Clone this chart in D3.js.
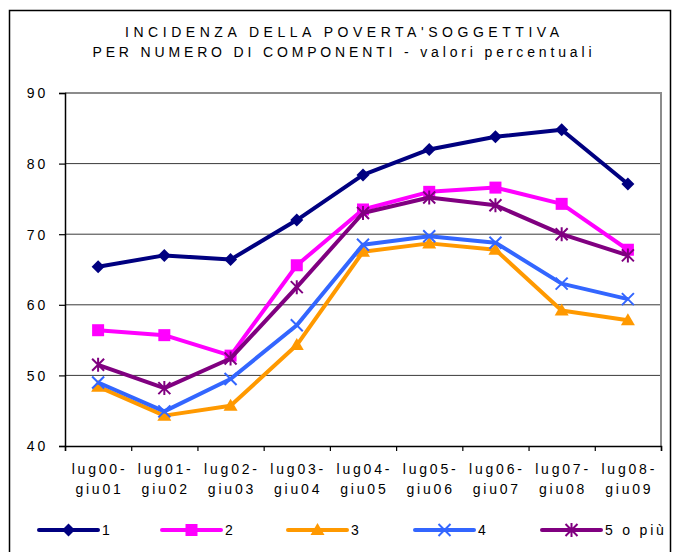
<!DOCTYPE html>
<html><head><meta charset="utf-8">
<script src="https://cdn.jsdelivr.net/npm/d3@7"></script>
<style>body{margin:0;background:#fff}svg{display:block}text{font-family:"Liberation Sans",Arial,sans-serif;fill:#000}</style>
</head><body><svg id="c" width="676" height="552"></svg>
<script>
const titleLines = ["INCIDENZA DELLA POVERTA'SOGGETTIVA", "PER NUMERO DI COMPONENTI - valori percentuali"];
const categories = [["lug00-","giu01"],["lug01-","giu02"],["lug02-","giu03"],["lug03-","giu04"],["lug04-","giu05"],["lug05-","giu06"],["lug06-","giu07"],["lug07-","giu08"],["lug08-","giu09"]];
const seriesNames = ["1","2","3","4","5 o più"];
const s1 = [65.4, 67.0, 66.4, 72.0, 78.4, 82.0, 83.8, 84.8, 77.1];
const s2 = [56.4, 55.7, 52.8, 65.6, 73.5, 76.0, 76.6, 74.3, 67.8];
const s3 = [48.4, 44.3, 45.7, 54.3, 67.5, 68.7, 67.8, 59.2, 57.8];
const s4 = [49.0, 44.9, 49.5, 57.1, 68.5, 69.7, 68.8, 63.0, 60.8];
const s5 = [51.5, 48.2, 52.4, 62.5, 73.0, 75.2, 74.1, 70.0, 67.0];
const yTicks = [40, 50, 60, 70, 80, 90];

const colors = ["#000080", "#FF00FF", "#FF9900", "#3366FF", "#800080"];
const markers = ["diamond", "square", "triangle", "x", "star"];
const allSeries = [s1, s2, s3, s4, s5];

const svg = d3.select("#c");
// outer frame
svg.append("rect").attr("x", 9.5).attr("y", 10.5).attr("width", 661).attr("height", 560)
  .attr("fill", "none").attr("stroke", "#000").attr("stroke-width", 1.5);

// title
const tl = [{t: titleLines[0], y: 37, len: 434}, {t: titleLines[1], y: 57, len: 499}];
svg.selectAll("text.title").data(tl).join("text").attr("class", "title")
  .attr("x", 342).attr("y", d => d.y).attr("text-anchor", "middle")
  .attr("font-size", 14).attr("textLength", d => d.len).attr("lengthAdjust", "spacing")
  .text(d => d.t);

const x0 = 65, x1 = 661, yTop = 93, yBot = 446;
const x = d3.scaleBand().domain(d3.range(categories.length)).range([x0, x1]);
const y = d3.scaleLinear().domain([40, 90]).range([yBot, yTop]);
const cx = i => x(i) + x.bandwidth() / 2;

// gridlines
svg.append("g").selectAll("line").data(yTicks.filter(v => v > 40 && v < 90)).join("line")
  .attr("x1", x0).attr("x2", x1).attr("y1", d => y(d)).attr("y2", d => y(d))
  .attr("stroke", "#3a3a3a").attr("stroke-width", 1);
// plot border top/right gray
svg.append("path").attr("d", `M${x0},${y(90)}H${x1}V${yBot}`)
  .attr("fill", "none").attr("stroke", "#8c8c8c").attr("stroke-width", 2);

// y axis
const ya = d3.axisLeft(y).tickValues(yTicks).tickSize(6).tickFormat(d3.format("d"));
const gy = svg.append("g").attr("transform", `translate(${x0},0)`).call(ya);
gy.select(".domain").attr("stroke", "#000").attr("stroke-width", 1.5);
gy.selectAll(".tick line").attr("stroke", "#000").attr("stroke-width", 1.2);
gy.selectAll(".tick text").attr("font-size", 14).attr("letter-spacing", "2.8px")
  .attr("x", -17).attr("dy", "0.35em").attr("fill", "#000")
  .style("font-family", '"Liberation Sans",Arial,sans-serif');

// x axis
const xb = d3.scaleLinear().domain([0, categories.length]).range([x0, x1]);
const xa = d3.axisBottom(xb).tickValues(d3.range(categories.length + 1)).tickSize(5).tickFormat("");
const gx = svg.append("g").attr("transform", `translate(0,${yBot})`).call(xa);
gx.select(".domain").attr("stroke", "#000").attr("stroke-width", 1.5);
gx.selectAll(".tick line").attr("stroke", "#000").attr("stroke-width", 1.2);

const lab = svg.append("g").selectAll("text").data(categories).join("text")
  .attr("font-size", 14).attr("letter-spacing", "2.8px").attr("text-anchor", "middle");
lab.append("tspan").attr("x", (d, i) => cx(i) + 1.4).attr("y", 474).text(d => d[0]);
lab.append("tspan").attr("x", (d, i) => cx(i) + 1.4).attr("y", 494).text(d => d[1]);

// markers
function drawMarker(g, type, color, px, py) {
  if (type === "diamond") {
    g.append("path").attr("d", `M${px},${py-6.5}L${px+6.5},${py}L${px},${py+6.5}L${px-6.5},${py}Z`).attr("fill", color);
  } else if (type === "square") {
    g.append("rect").attr("x", px-6).attr("y", py-6).attr("width", 12).attr("height", 12).attr("fill", color);
  } else if (type === "triangle") {
    g.append("path").attr("d", `M${px},${py-7}L${px+7},${py+5}L${px-7},${py+5}Z`).attr("fill", color);
  } else if (type === "x") {
    g.append("path").attr("d", `M${px-6},${py-6}L${px+6},${py+6}M${px+6},${py-6}L${px-6},${py+6}`)
      .attr("stroke", color).attr("stroke-width", 2);
  } else if (type === "star") {
    g.append("path").attr("d", `M${px-6},${py-6}L${px+6},${py+6}M${px+6},${py-6}L${px-6},${py+6}M${px},${py-7}V${py+7}`)
      .attr("stroke", color).attr("stroke-width", 2);
  }
}

const line = d3.line().x((d, i) => cx(i)).y(d => y(d));
allSeries.forEach((s, k) => {
  const g = svg.append("g");
  g.append("path").datum(s).attr("d", line).attr("fill", "none")
    .attr("stroke", colors[k]).attr("stroke-width", 4).attr("stroke-linejoin", "round");
  s.forEach((v, i) => drawMarker(g, markers[k], colors[k], cx(i), y(v)));
});

// legend
const legX = [39, 162, 288, 415, 542];
seriesNames.forEach((n, k) => {
  const g = svg.append("g");
  const lx = legX[k], ly = 530;
  g.append("line").attr("x1", lx).attr("x2", lx + 59).attr("y1", ly).attr("y2", ly)
    .attr("stroke", colors[k]).attr("stroke-width", 4).attr("stroke-linecap", "round");
  drawMarker(g, markers[k], colors[k], lx + 29.5, ly);
  g.append("text").attr("x", lx + 63).attr("y", ly + 5).attr("font-size", 14)
    .attr("letter-spacing", "2.8px").text(n);
});
</script></body></html>
